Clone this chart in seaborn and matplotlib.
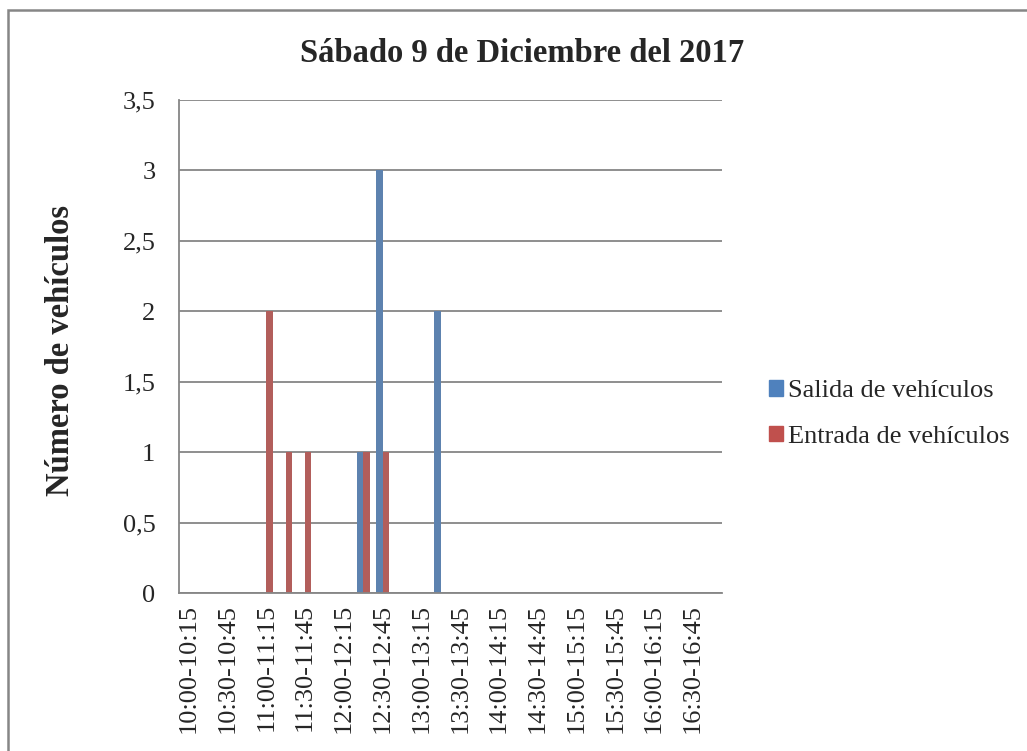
import numpy as np
import pandas as pd
import matplotlib
matplotlib.use("Agg")
import matplotlib.pyplot as plt
import seaborn as sns
from matplotlib.patches import Rectangle

intervals = [
    "10:00-10:15", "10:15-10:30", "10:30-10:45", "10:45-11:00",
    "11:00-11:15", "11:15-11:30", "11:30-11:45", "11:45-12:00",
    "12:00-12:15", "12:15-12:30", "12:30-12:45", "12:45-13:00",
    "13:00-13:15", "13:15-13:30", "13:30-13:45", "13:45-14:00",
    "14:00-14:15", "14:15-14:30", "14:30-14:45", "14:45-15:00",
    "15:00-15:15", "15:15-15:30", "15:30-15:45", "15:45-16:00",
    "16:00-16:15", "16:15-16:30", "16:30-16:45", "16:45-17:00",
]
salida = [0, 0, 0, 0, 0, 0, 0, 0, 0, 1, 3, 0, 0, 2,
          0, 0, 0, 0, 0, 0, 0, 0, 0, 0, 0, 0, 0, 0]
entrada = [0, 0, 0, 0, 2, 1, 1, 0, 0, 1, 1, 0, 0, 0,
           0, 0, 0, 0, 0, 0, 0, 0, 0, 0, 0, 0, 0, 0]
series_names = ["Salida de vehículos", "Entrada de vehículos"]
y_ticks = [0, 0.5, 1, 1.5, 2, 2.5, 3, 3.5]
y_labels = ["0", "0,5", "1", "1,5", "2", "2,5", "3", "3,5"]

df = pd.DataFrame({
    "intervalo": intervals * 2,
    "valor": salida + entrada,
    "serie": [series_names[0]] * len(intervals) + [series_names[1]] * len(intervals),
})

sns.set_style("white")
plt.rcParams["font.family"] = ["Liberation Serif", "DejaVu Serif"]

fig = plt.figure(figsize=(10.27, 7.51), dpi=100)
ax = fig.add_axes([179 / 1027, 1 - 593 / 751, 543 / 1027, 493 / 751])

grid_c = "#868686"
for y in y_ticks:
    ax.axhline(y, color=grid_c, lw=1.3, zorder=0)

sns.barplot(data=df, x="intervalo", y="valor", hue="serie", order=intervals,
            hue_order=series_names, palette=["#4F81BD", "#C0504D"],
            width=0.66, linewidth=0, ax=ax, zorder=2)

ax.set_ylim(0, 3.5)
ax.set_xlim(-0.5, len(intervals) - 0.5)
ax.set_yticks(y_ticks)
ax.set_yticklabels(y_labels, fontsize=19)
ax.set_xticks(range(0, len(intervals), 2))
ax.set_xticklabels(intervals[::2], rotation=90, fontsize=19)
ax.tick_params(axis="both", length=0)
ax.tick_params(axis="y", pad=17)
ax.tick_params(axis="x", pad=8)
ax.set_xlabel("")
ax.set_ylabel("")

for s in ["top", "right"]:
    ax.spines[s].set_visible(False)
for s in ["left", "bottom"]:
    ax.spines[s].set_color(grid_c)
    ax.spines[s].set_linewidth(1.3)

ax.get_legend().remove()
handles = [Rectangle((0, 0), 1, 1, color="#4F81BD"), Rectangle((0, 0), 1, 1, color="#C0504D")]
fig.legend(handles, series_names, loc="center left", bbox_to_anchor=(769 / 1027, 1 - 414 / 751),
           frameon=False, fontsize=19, handlelength=0.53, handleheight=0.53,
           handletextpad=0.2, labelspacing=0.9, borderpad=0, borderaxespad=0)

fig.text(522 / 1027, 1 - 53 / 751, "Sábado 9 de Diciembre del 2017", ha="center", va="center",
         fontsize=23.5, fontweight="bold")
fig.text(61 / 1027, 1 - 350 / 751, "Número de vehículos", ha="center", va="center",
         rotation=90, fontsize=23.5, fontweight="bold")

# chart-area border: left and top edges visible, the rest falls outside the image
fig.patches.append(Rectangle((8 / 1027, -0.02), 1.05, 1.02 - 10 / 751,
                             transform=fig.transFigure, fill=False, edgecolor=grid_c, lw=1.8))

fig.savefig("out.png", dpi=100)
